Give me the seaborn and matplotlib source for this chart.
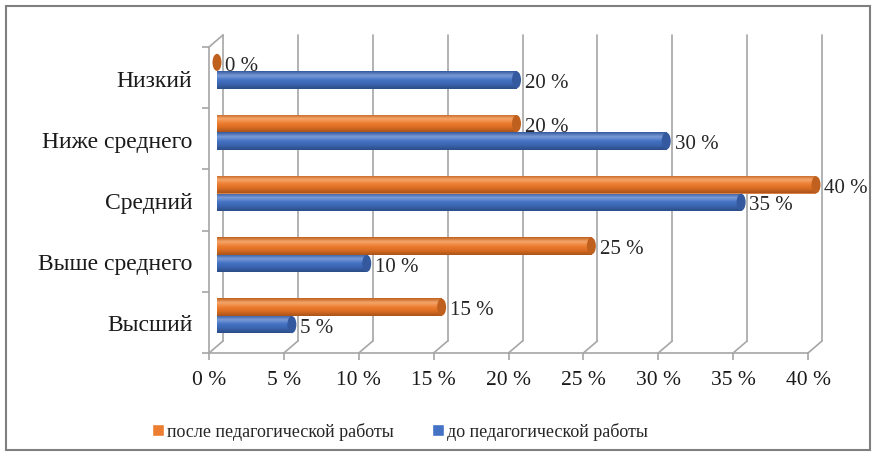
import numpy as np
import pandas as pd
import matplotlib
matplotlib.use("Agg")
import matplotlib.pyplot as plt
from matplotlib.colors import LinearSegmentedColormap
from matplotlib.patches import Ellipse, Rectangle
from matplotlib.lines import Line2D
import seaborn as sns

levels = ["Низкий", "Ниже среднего", "Средний", "Выше среднего", "Высший"]
after_vals = [0, 20, 40, 25, 15]
before_vals = [20, 30, 35, 10, 5]
series = ["после педагогической работы", "до педагогической работы"]
x_ticks = [0, 5, 10, 15, 20, 25, 30, 35, 40]

df = pd.DataFrame({
    "level": levels * 2,
    "value": after_vals + before_vals,
    "period": [series[0]] * 5 + [series[1]] * 5,
})

sns.set_style("white")
plt.rcParams["font.family"] = ["Liberation Serif", "DejaVu Serif"]

W, H = 875, 456
fig = plt.figure(figsize=(W / 100, H / 100), dpi=100)
# front plane of the pseudo-3D box, in pixels
x0, x1, ytop, ybot = 209, 808, 48, 354
ax = fig.add_axes([x0 / W, 1 - ybot / H, (x1 - x0) / W, (ybot - ytop) / H])

colors = {series[0]: "#ED7D31", series[1]: "#4472C4"}
sns.barplot(data=df, y="level", x="value", hue="period", hue_order=series,
            order=levels, palette=colors, width=0.57, orient="h",
            linewidth=0, legend=False, ax=ax)

ax.set_xlim(0, 40)
ax.set_ylim(4.5, -0.5)

# pixel -> data conversion for depth offsets
pxx = (x1 - x0) / 40.0
pxy = (ybot - ytop) / 5.0
back_dx, back_dy = 14 / pxx, 12 / pxy
bar_dx, bar_dy = 8 / pxx, 6.5 / pxy

grid_c = "#a6a6a6"
lw = 1.2
# back wall grid lines
for xv in x_ticks:
    ax.add_line(Line2D([xv + back_dx] * 2, [4.5 - back_dy, -0.5 - back_dy],
                       color=grid_c, lw=lw, clip_on=False, zorder=0))
    ax.add_line(Line2D([xv, xv + back_dx], [4.5, 4.5 - back_dy],
                       color=grid_c, lw=lw, clip_on=False, zorder=0))
# left wall top edge
ax.add_line(Line2D([0, back_dx], [-0.5, -0.5 - back_dy], color=grid_c, lw=lw,
                   clip_on=False, zorder=0))

# bars: shift into the depth, shade as cylinders
shades = {
    series[0]: ["#c0601f", "#f4a66b", "#ED7D31", "#d86c22", "#a9531a"],
    series[1]: ["#34599e", "#7b9bd6", "#4472C4", "#3a63ad", "#2b4c86"],
}
bars = list(ax.patches)
for i, p in enumerate(bars):
    s = series[i // len(levels)]
    p.set_x(p.get_x() + bar_dx)
    p.set_y(p.get_y() - bar_dy)
    p.set_clip_on(False)
    x, y, w, h = p.get_x(), p.get_y(), p.get_width(), p.get_height()
    cmap = LinearSegmentedColormap.from_list("c", shades[s])
    grad = np.linspace(0, 1, 64).reshape(-1, 1)
    if w > 0:
        im = ax.imshow(grad, cmap=cmap, aspect="auto", extent=[x, x + w, y + h, y],
                       zorder=2, interpolation="bilinear")
        im.set_clip_path(p)
    cap = Ellipse((x + w, y + h / 2), 9 / pxx, h * 0.98, facecolor=shades[s][0],
                  edgecolor="none", zorder=3, clip_on=False)
    ax.add_patch(cap)
    ax.annotate(f"{int(round(w))} %", xy=(x + w, y + h / 2), xytext=(6, -2),
                textcoords="offset points", ha="left", va="center",
                fontsize=15, color="#262626", annotation_clip=False)

ax.set_xlim(0, 40)
ax.set_ylim(4.5, -0.5)

for sp in ["top", "right"]:
    ax.spines[sp].set_visible(False)
for sp in ["left", "bottom"]:
    ax.spines[sp].set_color(grid_c)
    ax.spines[sp].set_linewidth(lw)

ax.set_xticks(x_ticks)
ax.set_xticklabels([f"{v} %" for v in x_ticks])
ax.tick_params(axis="x", length=5, width=lw, color=grid_c, labelsize=15.5,
               labelcolor="#1a1a1a", pad=7, bottom=True)
ax.set_yticks(range(5))
ax.set_yticklabels(levels)
ax.set_yticks(np.arange(-0.5, 5, 1), minor=True)
ax.tick_params(axis="y", which="major", length=0, labelsize=17,
               labelcolor="#1a1a1a", pad=12)
ax.tick_params(axis="y", which="minor", length=5, width=lw, color=grid_c, left=True)
ax.set_xlabel("")
ax.set_ylabel("")
ax.grid(False)

handles = [Rectangle((0, 0), 1, 1, facecolor=colors[s]) for s in series]
fig.legend(handles, series, loc="center", bbox_to_anchor=(400 / W, 1 - 432 / H),
           ncol=2, frameon=False, fontsize=13, handlelength=0.65, handleheight=0.65,
           handletextpad=0.2, columnspacing=2.1)

fig.patches.append(Rectangle((6 / W, 5 / H), 864 / W, 444 / H, transform=fig.transFigure,
                             fill=False, edgecolor="#7f7f7f", lw=1.5))

fig.savefig("out.png", dpi=100)
